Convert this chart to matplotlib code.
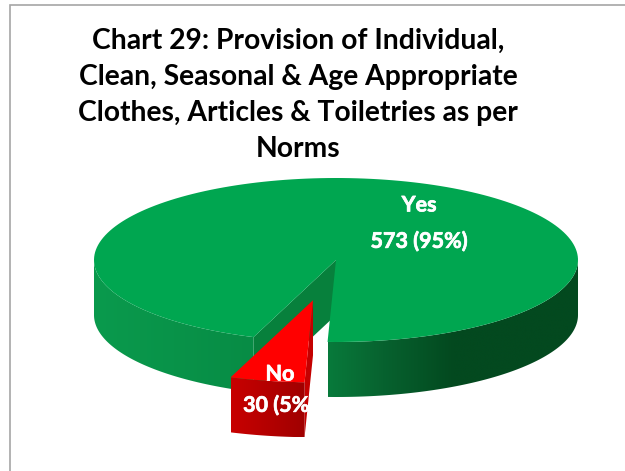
import numpy as np
import matplotlib
matplotlib.use("Agg")
import matplotlib.pyplot as plt
import matplotlib.patheffects as pe
from matplotlib.colors import LinearSegmentedColormap
from matplotlib.patches import Polygon, Rectangle

# =====================================
# DATA
# =====================================

title = "Chart 29: Provision of Individual,\nClean, Seasonal & Age Appropriate\nClothes, Articles & Toiletries as per\nNorms"
labels = ["Yes", "No"]
counts = [573, 30]
percents = ["95%", "5%"]

# =====================================
# PIE GEOMETRY (pixels)
# =====================================

cx, cy = 336, 260
rx, ry = 242, 82
depth = 55
explode = 0.5
start_angle = 92  # screen angle where the "No" slice begins

no_span = 360 * counts[1] / sum(counts)
no_start = start_angle
no_end = start_angle + no_span
mid = np.radians((no_start + no_end) / 2)
off_x = explode * rx * np.cos(mid)
off_y = explode * ry * np.sin(mid)


def arc(a0, a1, x0=cx, y0=cy):
    t = np.radians(np.linspace(a0, a1, 200))
    return np.column_stack([x0 + rx * np.cos(t), y0 + ry * np.sin(t)])


def rim(a0, a1, x0=cx, y0=cy):
    top = arc(a0, a1, x0, y0)
    bottom = top[::-1] + [0, depth]
    return np.vstack([top, bottom])


def gradient_fill(ax, pts, colors, stops=None):
    # horizontal gradient clipped to the polygon
    patch = Polygon(pts, closed=True, fc="none", ec="none")
    ax.add_patch(patch)
    if stops is None:
        cmap = LinearSegmentedColormap.from_list("g", colors)
    else:
        cmap = LinearSegmentedColormap.from_list("g", list(zip(stops, colors)))
    x0, x1 = pts[:, 0].min(), pts[:, 0].max()
    y0, y1 = pts[:, 1].min(), pts[:, 1].max()
    im = ax.imshow(np.linspace(0, 1, 256).reshape(1, -1), cmap=cmap, aspect="auto",
                   extent=[x0, x1, y1, y0], zorder=patch.get_zorder(), interpolation="bilinear")
    im.set_clip_path(patch)


fig = plt.figure(figsize=(6.25, 4.71), dpi=100)
ax = fig.add_axes([0, 0, 1, 1])
ax.axis("off")

# chart frame
ax.add_patch(Rectangle((10, 5), 700, 600, fc="white", ec="#a6a6a6", lw=1.2))

# =====================================
# GREEN SLICE
# =====================================

cut = arc(no_end, no_end)[0]
inner = np.array([[cx, cy], cut, cut + [0, depth], [cx, cy + depth]])
ax.add_patch(Polygon(inner, closed=True, fc="#07803c", ec="none"))

gradient_fill(ax, rim(no_end, 180), ["#0a9a4d", "#078c45"])
gradient_fill(ax, rim(0, no_start), ["#087a3b", "#07622f", "#03491f", "#03491f"],
              [0, 0.22, 0.5, 1])

top_green = np.vstack([[[cx, cy]], arc(no_end, start_angle + 360)])
ax.add_patch(Polygon(top_green, closed=True, fc="#00a650", ec="none"))

# =====================================
# RED SLICE
# =====================================

rcx, rcy = cx + off_x, cy + off_y
r_start = arc(no_start, no_start, rcx, rcy)[0]
r_inner = np.array([[rcx, rcy], r_start, r_start + [0, depth], [rcx, rcy + depth]])
ax.add_patch(Polygon(r_inner, closed=True, fc="#c40000", ec="none"))

gradient_fill(ax, rim(no_start, no_end, rcx, rcy), ["#c80000", "#a00000"])

top_red = np.vstack([[[rcx, rcy]], arc(no_start, no_end, rcx, rcy)])
ax.add_patch(Polygon(top_red, closed=True, fc="#ff0000", ec="none"))

# =====================================
# TEXT
# =====================================

font = ["Lato", "DejaVu Sans"]
ax.text(298, 95, title, ha="center", va="center", fontsize=20.3, fontweight="bold",
        family=font, color="black", linespacing=1.48)

heavy = [pe.withStroke(linewidth=0.5, foreground="white")]
label_style = dict(ha="center", va="center", fontsize=15.5, fontweight="bold",
                   family=font, color="white", path_effects=heavy)
ax.text(419, 205, labels[0], **label_style)
ax.text(419, 241, f"{counts[0]} ({percents[0]})", **label_style)
ax.text(280, 374, labels[1], **label_style)
ax.text(279, 405, f"{counts[1]} ({percents[1]})", **label_style)

ax.set_xlim(0, 625)
ax.set_ylim(471, 0)

plt.savefig("out.png", dpi=100)
